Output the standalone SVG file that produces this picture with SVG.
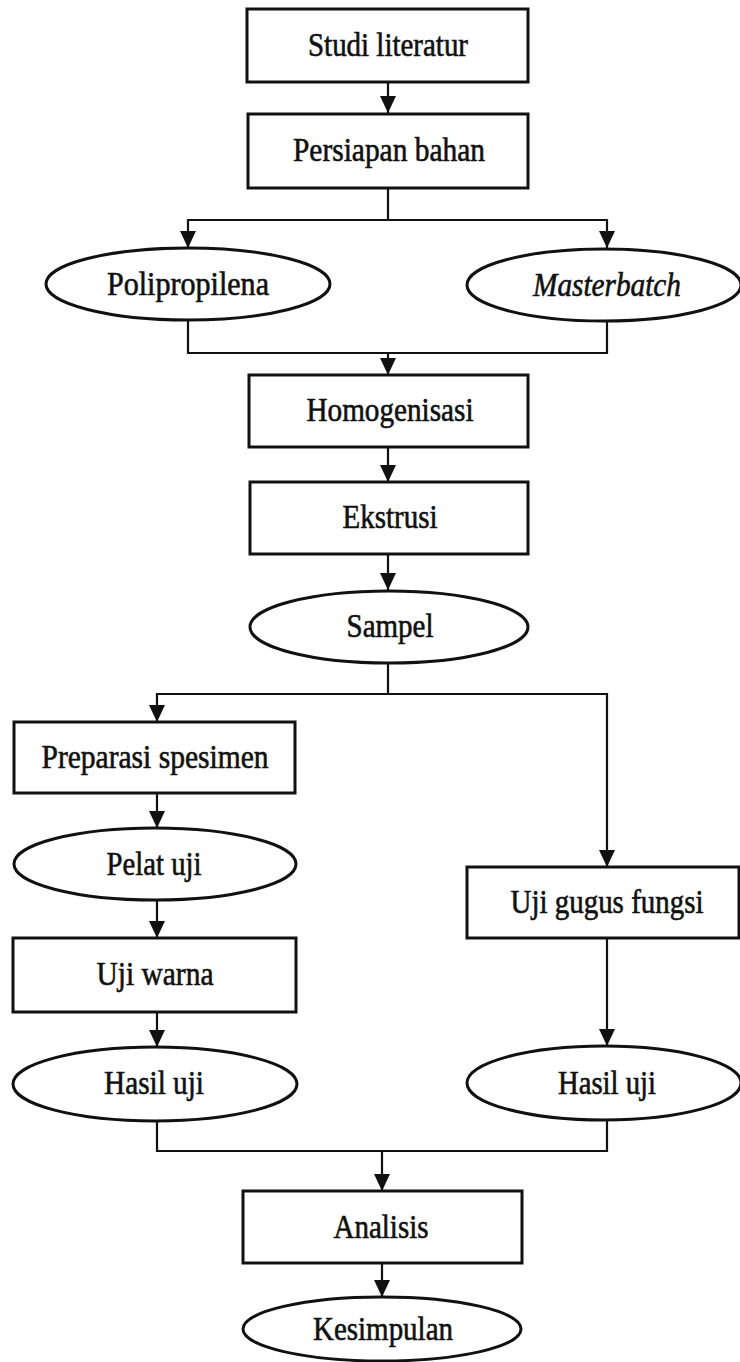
<svg xmlns="http://www.w3.org/2000/svg" width="740" height="1362" viewBox="0 0 740 1362">
<defs>
<marker id="arr" markerUnits="userSpaceOnUse" markerWidth="20" markerHeight="20" refX="17" refY="8" orient="auto">
<path d="M0,0 L17,8 L0,16 z" fill="#111"/>
</marker>
<style>
.box{fill:#fff;stroke:#111;stroke-width:3}
.t{font-family:"Liberation Serif","Times New Roman",serif;font-size:33px;fill:#111;stroke:#111;stroke-width:0.6;text-anchor:middle}
.i{font-style:italic}
.c{fill:none;stroke:#111;stroke-width:2.2}
</style>
</defs>
<rect width="740" height="1362" fill="#fff"/>
<g id="connectors">
<path class="c" d="M388,82 V113" marker-end="url(#arr)"/>
<path class="c" d="M388,188 V220 H188 V248" marker-end="url(#arr)"/>
<path class="c" d="M388,220 H607 V248" marker-end="url(#arr)"/>
<path class="c" d="M188,320 V353 H607 V321"/>
<path class="c" d="M388,353 V375" marker-end="url(#arr)"/>
<path class="c" d="M388,447 V482" marker-end="url(#arr)"/>
<path class="c" d="M388,554 V590" marker-end="url(#arr)"/>
<path class="c" d="M388,663 V694 H157 V722" marker-end="url(#arr)"/>
<path class="c" d="M388,694 H607 V867" marker-end="url(#arr)"/>
<path class="c" d="M157,793 V828" marker-end="url(#arr)"/>
<path class="c" d="M157,900 V938" marker-end="url(#arr)"/>
<path class="c" d="M157,1012 V1047" marker-end="url(#arr)"/>
<path class="c" d="M607,938 V1046" marker-end="url(#arr)"/>
<path class="c" d="M157,1120 V1151 H607 V1120"/>
<path class="c" d="M382,1151 V1191" marker-end="url(#arr)"/>
<path class="c" d="M382,1263 V1297" marker-end="url(#arr)"/>
</g>
<g id="studi-literatur">
<rect class="box" x="247" y="9" width="281" height="73"/>
<text class="t" x="388" y="56" textLength="160" lengthAdjust="spacingAndGlyphs">Studi literatur</text>
</g>
<g id="persiapan-bahan">
<rect class="box" x="248" y="114" width="280" height="74"/>
<text class="t" x="389" y="161" textLength="192" lengthAdjust="spacingAndGlyphs">Persiapan bahan</text>
</g>
<g id="polipropilena">
<ellipse class="box" cx="188" cy="284" rx="142" ry="36"/>
<text class="t" x="188" y="295" textLength="162" lengthAdjust="spacingAndGlyphs">Polipropilena</text>
</g>
<g id="masterbatch">
<ellipse class="box" cx="604" cy="285" rx="137" ry="36"/>
<text class="t i" x="607" y="296" textLength="148" lengthAdjust="spacingAndGlyphs">Masterbatch</text>
</g>
<g id="homogenisasi">
<rect class="box" x="249" y="375" width="279" height="72"/>
<text class="t" x="390" y="421" textLength="167" lengthAdjust="spacingAndGlyphs">Homogenisasi</text>
</g>
<g id="ekstrusi">
<rect class="box" x="250" y="482" width="278" height="72"/>
<text class="t" x="390" y="528" textLength="95" lengthAdjust="spacingAndGlyphs">Ekstrusi</text>
</g>
<g id="sampel">
<ellipse class="box" cx="389" cy="627" rx="139" ry="36"/>
<text class="t" x="390" y="637" textLength="87" lengthAdjust="spacingAndGlyphs">Sampel</text>
</g>
<g id="preparasi-spesimen">
<rect class="box" x="14" y="722" width="281" height="71"/>
<text class="t" x="155" y="768" textLength="227" lengthAdjust="spacingAndGlyphs">Preparasi spesimen</text>
</g>
<g id="pelat-uji">
<ellipse class="box" cx="155" cy="864" rx="141" ry="36"/>
<text class="t" x="154" y="875" textLength="95" lengthAdjust="spacingAndGlyphs">Pelat uji</text>
</g>
<g id="uji-gugus-fungsi">
<rect class="box" x="467" y="867" width="272" height="71"/>
<text class="t" x="607" y="913" textLength="193" lengthAdjust="spacingAndGlyphs">Uji gugus fungsi</text>
</g>
<g id="uji-warna">
<rect class="box" x="13" y="938" width="283" height="74"/>
<text class="t" x="155" y="985" textLength="117" lengthAdjust="spacingAndGlyphs">Uji warna</text>
</g>
<g id="hasil-uji-kiri">
<ellipse class="box" cx="155" cy="1084" rx="142" ry="37"/>
<text class="t" x="154" y="1094" textLength="100" lengthAdjust="spacingAndGlyphs">Hasil uji</text>
</g>
<g id="hasil-uji-kanan">
<ellipse class="box" cx="604" cy="1083" rx="137" ry="37"/>
<text class="t" x="607" y="1094" textLength="98" lengthAdjust="spacingAndGlyphs">Hasil uji</text>
</g>
<g id="analisis">
<rect class="box" x="243" y="1191" width="279" height="72"/>
<text class="t" x="381" y="1238" textLength="95" lengthAdjust="spacingAndGlyphs">Analisis</text>
</g>
<g id="kesimpulan">
<ellipse class="box" cx="382" cy="1329" rx="139" ry="32"/>
<text class="t" x="383" y="1340" textLength="140" lengthAdjust="spacingAndGlyphs">Kesimpulan</text>
</g>
</svg>
